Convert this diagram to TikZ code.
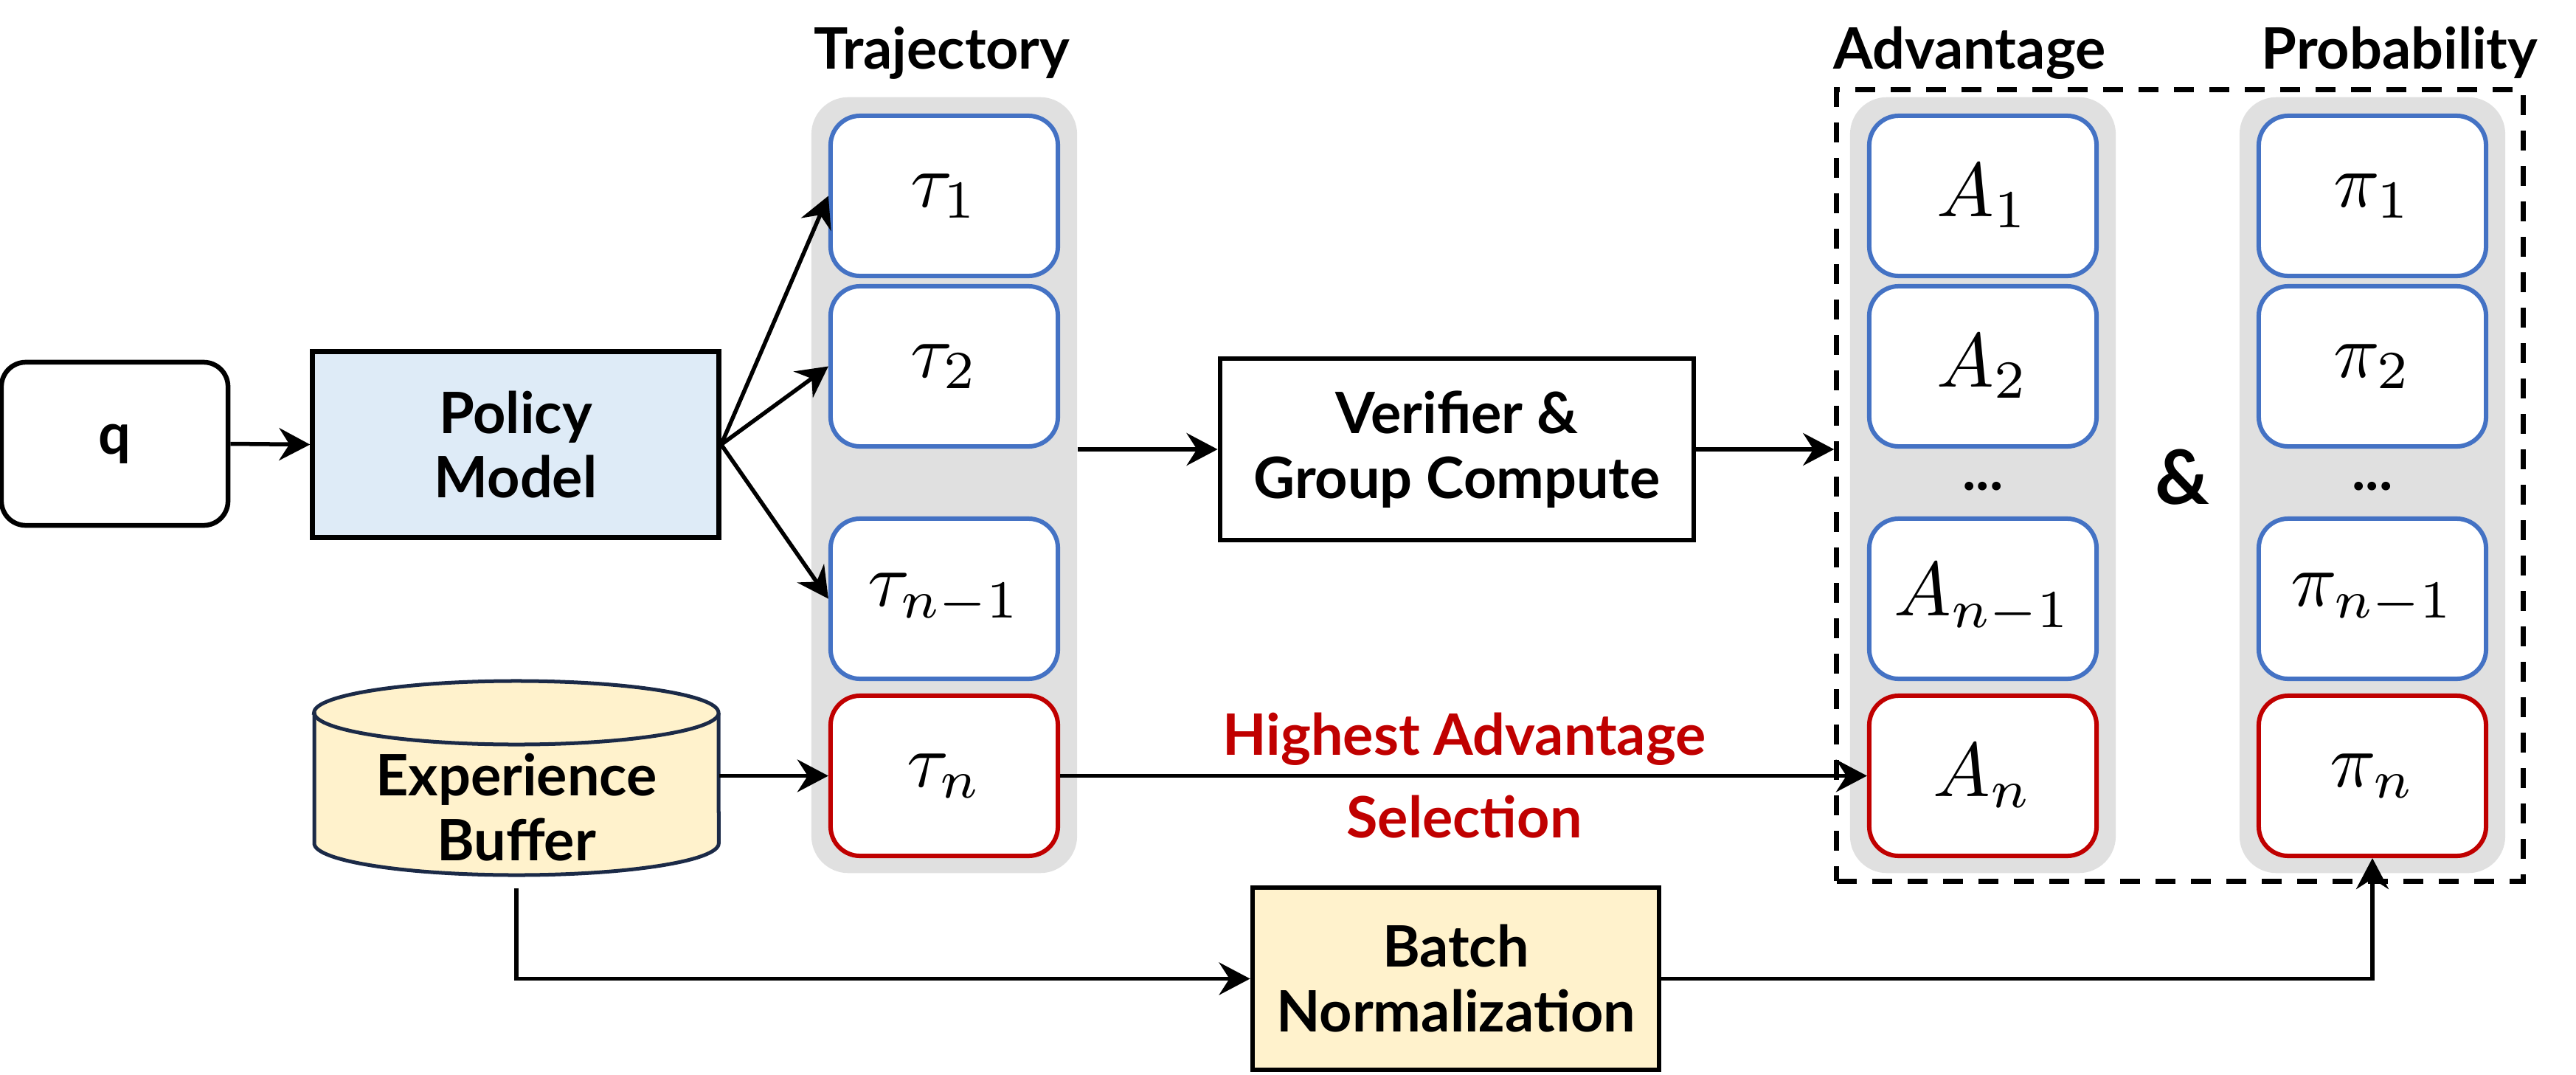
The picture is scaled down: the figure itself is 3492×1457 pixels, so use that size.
\documentclass[tikz,border=0pt]{standalone}
\usepackage[no-math]{fontspec}
\setmainfont{Lato}
\usetikzlibrary{arrows.meta}
\definecolor{colgray}{HTML}{E0E0E0}
\definecolor{bluebd}{HTML}{4472C4}
\definecolor{redbd}{HTML}{C00000}
\definecolor{pmfill}{HTML}{DEEBF7}
\definecolor{yelfill}{HTML}{FFF2CC}
\definecolor{cylbd}{HTML}{1B2A47}
\definecolor{redtxt}{HTML}{C00000}
\newcommand\mth[1]{\scalebox{2.95}{$#1$}}
\begin{document}
\begin{tikzpicture}[x=0.01cm,y=-0.01cm,
  txt/.style={font=\bfseries\fontsize{22}{25}\selectfont, align=center, inner sep=0pt},
  col/.style={fill=colgray, rounded corners=0.5cm, minimum width=3.6cm, minimum height=10.51cm, inner sep=0pt},
  tbox/.style={draw=bluebd, line width=0.06cm, fill=white, rounded corners=0.4cm, minimum width=3.08cm, minimum height=2.17cm, inner sep=0pt},
  rbox/.style={tbox, draw=redbd},
  arr/.style={-{Stealth[length=0.42cm,width=0.44cm,inset=0.14cm]}, line width=0.055cm},
  plain/.style={draw=black, line width=0.065cm, inner sep=0pt, txt}
]
\useasboundingbox (0,0) rectangle (3492,1457);

% group (dashed)
\node[draw, line width=0.07cm, dash pattern=on 0.27cm off 0.21cm, minimum width=9.30cm, minimum height=10.72cm, inner sep=0pt] (grp) at (2955,658) {};

% columns
\node[col] (trajcol) at (1280,657.5) {};
\node[col] (advcol) at (2688,657.5) {};
\node[col] (probcol) at (3216,657.5) {};

% column labels
\node[txt, anchor=base] (trajlbl) at (1277,93) {Trajectory};
\node[txt, anchor=base] (advlbl) at (2670,93) {Advantage};
\node[txt, anchor=base] (problbl) at (3253,93) {Probability};

% trajectories
\node[tbox] (t1) at (1280,265.5) {\mth{\tau_1}};
\node[tbox] (t2) at (1280,496.5) {\mth{\tau_2}};
\node[tbox] (t3) at (1280,811.5) {\mth{\tau_{n-1}}};
\node[rbox] (tn) at (1280,1051.5) {\mth{\tau_n}};

% advantages
\node[tbox] (a1) at (2688,265.5) {\mth{A_1}};
\node[tbox] (a2) at (2688,496.5) {\mth{A_2}};
\node[txt, anchor=base] (adots) at (2688,664) {...};
\node[tbox] (a3) at (2688,811.5) {\mth{A_{n-1}}};
\node[rbox] (an) at (2688,1051.5) {\mth{A_n}};

% probabilities
\node[tbox] (p1) at (3216,265.5) {\mth{\pi_1}};
\node[tbox] (p2) at (3216,496.5) {\mth{\pi_2}};
\node[txt, anchor=base] (pdots) at (3216,664) {...};
\node[tbox] (p3) at (3216,811.5) {\mth{\pi_{n-1}}};
\node[rbox] (pn) at (3216,1051.5) {\mth{\pi_n}};

\node[txt, font=\bfseries\fontsize{29}{30}\selectfont] (amp) at (2958,647) {\&};

% main boxes
\node[plain, rounded corners=0.33cm, minimum width=3.07cm, minimum height=2.21cm] (q) at (155.5,601.5) {q};
\node[plain, fill=pmfill, line width=0.07cm, minimum width=5.50cm, minimum height=2.51cm] (pm) at (699,602.5) {Policy\\Model};
\node[plain, minimum width=6.42cm, minimum height=2.46cm] (ver) at (1975,609) {Verifier \&\\Group Compute};
\node[plain, fill=yelfill, minimum width=5.51cm, minimum height=2.47cm] (bn) at (1973.5,1326.5) {Batch\\Normalization};

% experience buffer (cylinder)
\node[minimum width=5.48cm, minimum height=2.80cm, inner sep=0pt] (buf) at (700,1063) {};
\draw[cylbd, fill=yelfill, line width=0.05cm]
  (426,966) -- (426,1143) arc[start angle=180, end angle=360, x radius=2.74cm, y radius=0.43cm]
  -- (974,966) arc[start angle=0, end angle=180, x radius=2.74cm, y radius=0.43cm] -- cycle;
\draw[cylbd, line width=0.05cm] (426,966) arc[start angle=180, end angle=360, x radius=2.74cm, y radius=0.43cm];
\node[txt] (buftxt) at (700,1094) {Experience\\Buffer};

% red label
\node[txt, text=redtxt, font=\bfseries\fontsize{22}{32}\selectfont] (sel) at (1985,1051) {Highest Advantage\\Selection};

% connectors
\draw[arr] (q.east) -- (pm.west);
\draw[arr] (pm.east) -- (t1.west);
\draw[arr] (pm.east) -- (t2.west);
\draw[arr] (pm.east) -- (t3.west);
\draw[arr] (tn.west -| buf.east) -- (tn.west);
\draw[arr] (trajcol.east |- ver.west) -- (ver.west);
\draw[arr] (ver.east) -- (ver.east -| grp.west);
\draw[arr] (tn.east) -- (an.west);
\draw[arr] (buf.south) |- (bn.west);
\draw[arr] (bn.east) -| (pn.south);
\end{tikzpicture}
\end{document}
